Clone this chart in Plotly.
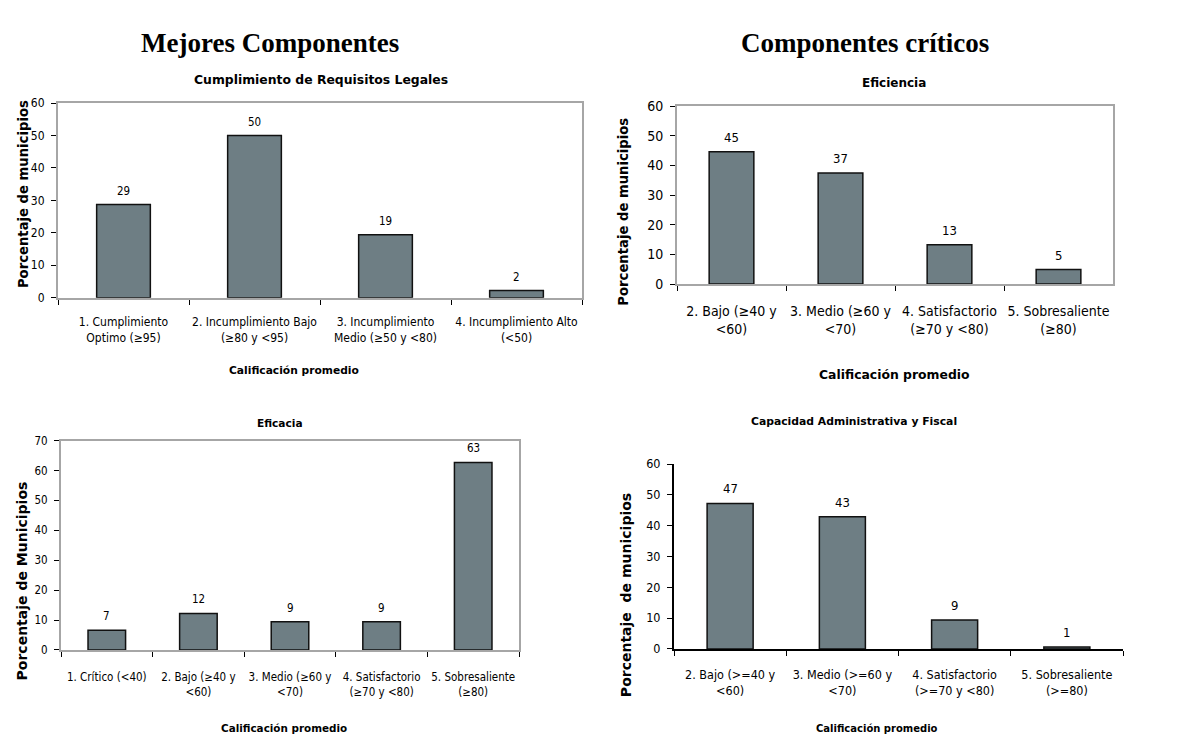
import plotly.graph_objects as go

W, H = 1180, 736

# ---------------- data ----------------
cats_legales = ["1. Cumplimiento<br>Optimo (≥95)", "2. Incumplimiento Bajo<br>(≥80 y <95)",
                "3. Incumplimiento<br>Medio (≥50 y <80)", "4. Incumplimiento Alto<br>(<50)"]
vals_legales = [28.7, 50.0, 19.4, 2.2]

cats_eficiencia = ["2. Bajo (≥40 y<br><60)", "3. Medio (≥60 y<br><70)",
                   "4. Satisfactorio<br>(≥70 y <80)", "5. Sobresaliente<br>(≥80)"]
vals_eficiencia = [44.6, 37.4, 13.2, 4.9]

cats_eficacia = ["1. Crítico (<40)", "2. Bajo (≥40 y<br><60)", "3. Medio (≥60 y<br><70)",
                 "4. Satisfactorio<br>(≥70 y <80)", "5. Sobresaliente<br>(≥80)"]
vals_eficacia = [6.6, 12.2, 9.4, 9.4, 62.7]

cats_capacidad = ["2. Bajo (>=40 y<br><60)", "3. Medio (>=60 y<br><70)",
                  "4. Satisfactorio<br>(>=70 y <80)", "5. Sobresaliente<br>(>=80)"]
vals_capacidad = [47.2, 42.9, 9.4, 0.6]

main_titles = ["Mejores Componentes", "Componentes críticos"]
chart_titles = ["Cumplimiento de Requisitos Legales", "Eficiencia", "Eficacia",
                "Capacidad Administrativa y Fiscal"]
x_title = "Calificación promedio"
y_titles = ["Porcentaje de municipios", "Porcentaje de municipios",
            "Porcentaje de Municipios", "Porcentaje  de municipios"]
y_max = [60, 60, 70, 60]

# ---------------- styling ----------------
BAR = "#6E7E84"
FRAME = "#A6A6A6"
TICKF = "DejaVu Sans Condensed, DejaVu Sans, sans-serif"
BOLDF = "DejaVu Sans, Verdana, sans-serif"
SERIF = "Liberation Serif, Times New Roman, serif"


def px(x):
    return x / W


def py(y):
    return 1 - y / H


panels = [
    dict(cats=cats_legales, vals=vals_legales, dom=(50, 574, 89, 288), frame=True,
         tick=12, standoff=12, val=11.5, xt=10.7, yt=13.2, ct=12.4,
         title_pos=(313, 65), xt_pos=(286, 362), yt_pos=(15, 182)),
    dict(cats=cats_eficiencia, vals=vals_eficiencia, dom=(669, 1105, 92, 274), frame=True,
         tick=14, standoff=13, val=13, xt=12.4, yt=13.2, ct=12,
         title_pos=(886, 68), xt_pos=(886, 366), yt_pos=(616, 200)),
    dict(cats=cats_eficacia, vals=vals_eficacia, dom=(53, 511, 434, 648), frame=True,
         tick=11.5, standoff=15, val=11.5, xt=10.4, yt=14, ct=10.6,
         title_pos=(272, 416), xt_pos=(276, 728), yt_pos=(14, 578)),
    dict(cats=cats_capacidad, vals=vals_capacidad, dom=(666, 1115, 458, 647), frame=False,
         tick=12.5, standoff=13, val=13, xt=10, yt=14, ct=10.8,
         title_pos=(846, 415), xt_pos=(869, 728), yt_pos=(618, 592)),
]

fig = go.Figure()
annotations = []
layout = {}

for i, p in enumerate(panels):
    n = "" if i == 0 else str(i + 1)
    xa, ya = "x" + n, "y" + n
    x0, x1, y0, y1 = p["dom"]
    fig.add_trace(go.Bar(
        x=p["cats"], y=p["vals"], xaxis=xa, yaxis=ya,
        marker=dict(color=BAR, line=dict(color="#111111", width=1.5)),
        width=0.41, showlegend=False, hoverinfo="skip",
    ))
    for c, v in zip(p["cats"], p["vals"]):
        annotations.append(dict(
            x=c, y=v, xref=xa, yref=ya, text=f"{v:.0f}", showarrow=False,
            yanchor="bottom", yshift=5,
            font=dict(family=TICKF, size=p["val"], color="black")))
    lc = FRAME if p["frame"] else "black"
    layout["xaxis" + n] = dict(
        domain=[px(x0), px(x1)], anchor=ya, type="category",
        showline=True, linecolor=lc, linewidth=2, mirror=p["frame"],
        ticks="outside", tickson="boundaries", ticklen=5, tickcolor="black", tickwidth=1,
        tickangle=0, ticklabelstandoff=p["standoff"], showgrid=False, zeroline=False,
        tickfont=dict(family=TICKF, size=p["tick"], color="black"), fixedrange=True)
    layout["yaxis" + n] = dict(
        domain=[py(y1), py(y0)], anchor=xa, range=[0, y_max[i]], dtick=10,
        showline=True, linecolor=lc, linewidth=2, mirror=p["frame"],
        ticks="outside", ticklen=5, tickcolor="black", tickwidth=1,
        ticklabelstandoff=4, showgrid=False, zeroline=False,
        tickfont=dict(family=TICKF, size=p["tick"], color="black"), fixedrange=True)

    tx, ty = p["title_pos"]
    annotations.append(dict(x=px(tx), y=py(ty), xref="paper", yref="paper",
                            text="<b>" + chart_titles[i] + "</b>", showarrow=False,
                            xanchor="center", yanchor="middle",
                            font=dict(family=BOLDF, size=p["ct"], color="black")))
    ax_, ay_ = p["xt_pos"]
    annotations.append(dict(x=px(ax_), y=py(ay_), xref="paper", yref="paper",
                            text="<b>" + x_title + "</b>", showarrow=False,
                            xanchor="center", yanchor="middle",
                            font=dict(family=BOLDF, size=p["xt"], color="black")))
    yx, yy = p["yt_pos"]
    annotations.append(dict(x=px(yx), y=py(yy), xref="paper", yref="paper",
                            text="<b>" + y_titles[i].replace("  ", "&nbsp; ") + "</b>",
                            showarrow=False, textangle=-90,
                            xanchor="center", yanchor="middle",
                            font=dict(family=BOLDF, size=p["yt"], color="black")))

for t, cx in zip(main_titles, (262, 857)):
    annotations.append(dict(x=px(cx), y=py(28), xref="paper", yref="paper",
                            text="<b>" + t + "</b>", showarrow=False,
                            xanchor="center", yanchor="middle",
                            font=dict(family=SERIF, size=27, color="black")))

fig.update_layout(
    width=W, height=H, autosize=False,
    margin=dict(l=0, r=0, t=0, b=0),
    paper_bgcolor="white", plot_bgcolor="white",
    annotations=annotations, **layout,
)

fig.write_html("out.html", config={"displayModeBar": False})
